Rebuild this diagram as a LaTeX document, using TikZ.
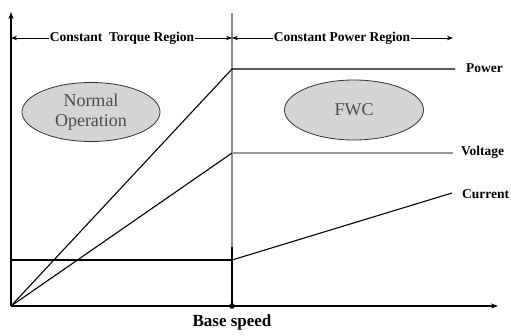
\documentclass[tikz,border=0pt]{standalone}
\usepackage{fontspec}
\setmainfont{Liberation Serif}
\usetikzlibrary{arrows.meta,shapes.geometric}
\begin{document}
\begin{tikzpicture}[x=1pt,y=-1pt,
  axis/.style={line width=1.2pt,-{Stealth[length=7pt,width=5pt]}},
  curve/.style={line width=1.1pt},
  graycurve/.style={line width=1.5pt,draw=black!40},
  region/.style={font=\bfseries\fontsize{13.5}{14}\selectfont,inner sep=0.5pt,fill=white},
  lbl/.style={font=\bfseries\fontsize{13.5}{14}\selectfont,anchor=west,inner sep=0pt},
  oval/.style={ellipse,draw=black!80,line width=0.8pt,fill=black!17,text=black!70,font=\fontsize{18}{20}\selectfont,align=center,inner sep=0pt}
]
\useasboundingbox (0,0) rectangle (511,335);
\coordinate (O) at (11,306);
\coordinate (ytop) at (11,12);
\coordinate (xend) at (498,306);
\coordinate (btop) at (232,13);
\coordinate (bmid) at (232,247);
\coordinate (B) at (232,306);
\coordinate (P1) at (232,69);
\coordinate (P2) at (455,69);
\coordinate (V1) at (232,153);
\coordinate (V2) at (453,153);
\coordinate (C0) at (11,260);
\coordinate (C1) at (232,260);
\coordinate (C2) at (452,193);
\coordinate (RL) at (11,38);
\coordinate (RM) at (232,38);
\coordinate (RR) at (453,38);
% base speed line
\draw[line width=1.3pt,draw=black!45] (btop) -- (bmid);
\draw[line width=1.3pt] (bmid) -- (B);
% axes
\draw[axis] (O) -- (ytop);
\draw[axis] (O) -- (xend);
\fill (B) circle (2.8pt);
% region arrows
\draw[line width=1pt,{Stealth[length=6pt,width=4.5pt]}-{Stealth[length=6pt,width=4.5pt]}] (RL) -- (RM);
\draw[line width=1pt,{Stealth[length=6pt,width=4.5pt]}-{Stealth[length=6pt,width=4.5pt]}] (RM) -- (RR);
\node[region] (ct) at (122,38) {Constant\ \ Torque Region};
\node[region] (cp) at (342,38) {Constant Power Region};
% power
\draw[curve] (O) -- (P1) -- (P2);
% voltage
\draw[curve] (O) -- (V1);
\draw[graycurve] (V1) -- (V2);
% current
\draw[curve] (C0) -- (C1);
\draw[curve] (C1) -- (C2);
% labels
\node[lbl] (pl) at (466,68) {Power};
\node[lbl] (vl) at (461,152) {Voltage};
\node[lbl] (cl) at (462,194) {Current};
\node[font=\bfseries\fontsize{17}{18}\selectfont] (bs) at (232,322) {Base speed};
% ellipses
\node[oval,minimum width=138pt,minimum height=59pt] (no) at (91,112) {Normal\\Operation};
\node[oval,minimum width=139pt,minimum height=60pt] (fwc) at (354,110) {FWC};
\end{tikzpicture}
\end{document}
